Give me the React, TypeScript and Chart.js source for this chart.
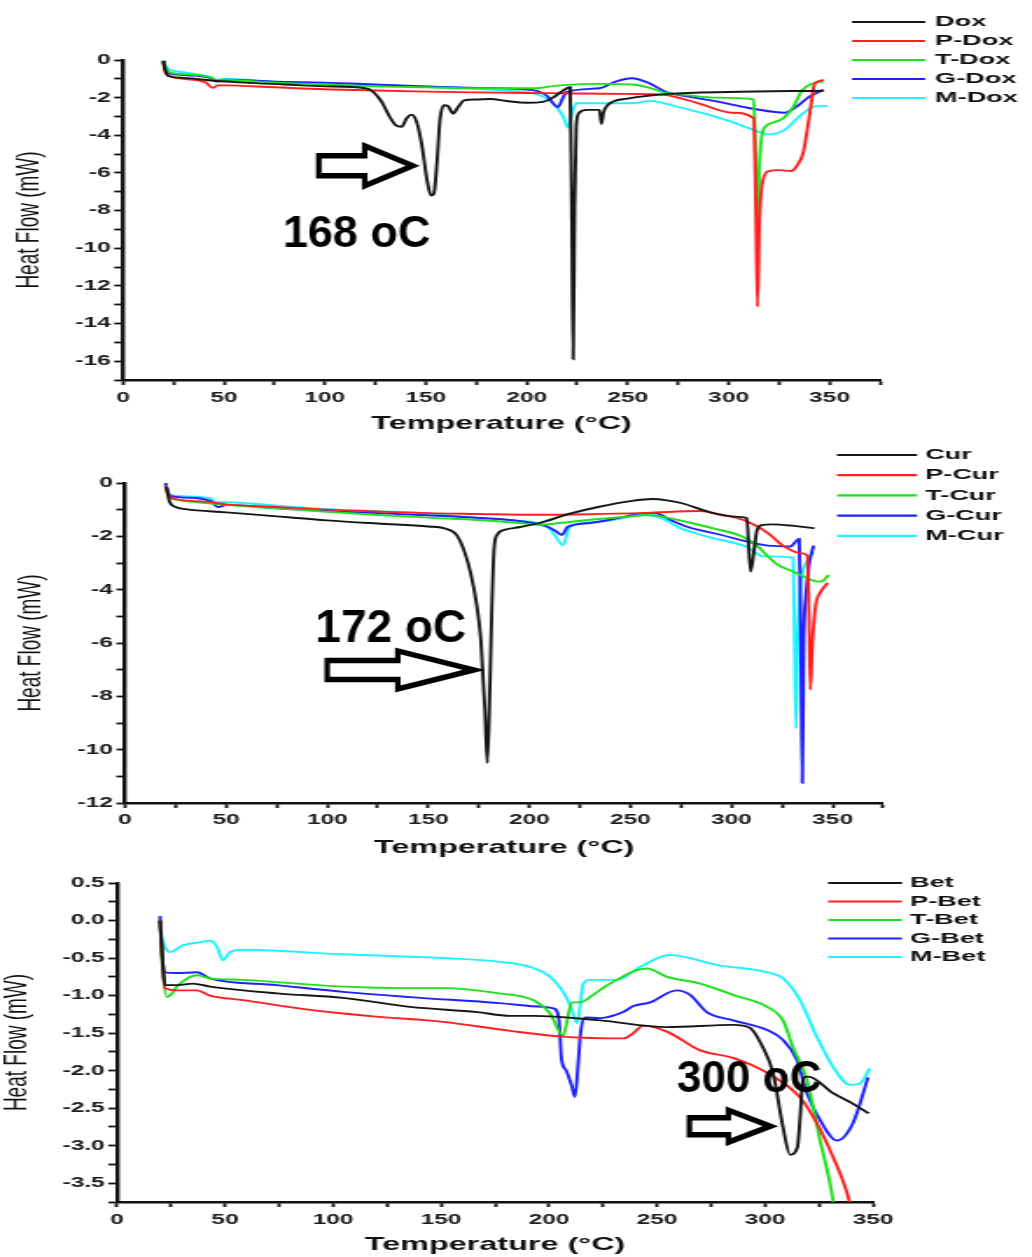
import React, { useEffect, useRef } from 'react';
import { Chart, registerables } from 'chart.js';

Chart.register(...registerables);

type Pt = [number, number];

// ---------------- data: panel 1 (Dox) ----------------
const DOX_NAMES = ['Dox', 'P-Dox', 'T-Dox', 'G-Dox', 'M-Dox'];
const DOX: Pt[] = [[20,-0.05],[21,-0.55],[22.5,-0.85],[30,-0.95],[45,-1.1],[60,-1.2],[80,-1.3],[100,-1.4],[120,-1.5],[124,-1.7],[128,-2.2],[132,-3.0],[135,-3.45],[138,-3.55],[140.5,-3.1],[143,-2.9],[145.5,-3.3],[148,-4.5],[150.5,-6.3],[152.5,-7.2],[154,-7.1],[155.5,-5.5],[157,-3.2],[159,-2.4],[161,-2.45],[163.5,-2.85],[166,-2.5],[169,-2.15],[175,-2.1],[182,-2.07],[190,-2.18],[200,-2.27],[208,-2.22],[213,-2.0],[217,-1.7],[221.5,-1.45],[222.3,-8],[223,-15.9],[223.7,-8],[224.5,-3.5],[226,-2.8],[230,-2.65],[236,-2.65],[237,-3.4],[238,-2.8],[240,-2.4],[250,-2.05],[260,-1.9],[270,-1.8],[300,-1.7],[347,-1.63]];
const P_DOX: Pt[] = [[20,-0.1],[21,-0.65],[23,-0.85],[30,-1.0],[41,-1.2],[44.5,-1.48],[47,-1.35],[50,-1.35],[75,-1.45],[100,-1.55],[125,-1.62],[150,-1.68],[175,-1.72],[200,-1.75],[225,-1.78],[250,-1.8],[268,-1.85],[285,-2.3],[302,-2.8],[312.5,-3.1],[313.5,-8],[314.3,-13.1],[315.3,-8.5],[317,-6.4],[320,-5.9],[325,-5.85],[331,-5.9],[334,-5.6],[337,-4.9],[340,-3.0],[342.5,-1.3],[344,-1.15],[347,-1.05]];
const T_DOX: Pt[] = [[20,-0.05],[21,-0.4],[23,-0.65],[30,-0.75],[44,-0.95],[46,-1.1],[50,-1.05],[75,-1.2],[100,-1.3],[125,-1.4],[150,-1.45],[175,-1.5],[205,-1.5],[212,-1.4],[220,-1.32],[235,-1.27],[252,-1.3],[260,-1.45],[269,-1.75],[280,-1.88],[294,-2.0],[312.5,-2.1],[313.3,-5],[314.2,-9.0],[315.3,-5.5],[316.5,-4.0],[318.7,-3.5],[323,-3.3],[327,-3.1],[332,-2.5],[336.5,-1.6],[341.5,-1.25],[347,-1.15]];
const G_DOX: Pt[] = [[20,-0.05],[21,-0.5],[23,-0.7],[30,-0.8],[43,-0.95],[46.5,-1.15],[51,-1.05],[75,-1.15],[100,-1.2],[125,-1.3],[150,-1.4],[175,-1.48],[203,-1.6],[210,-1.9],[215.5,-2.5],[217.5,-2.1],[219.7,-1.7],[236,-1.5],[244,-1.15],[252,-0.97],[260,-1.2],[269,-1.7],[280,-1.95],[294,-2.2],[310,-2.55],[322,-2.75],[328,-2.8],[334,-2.45],[340,-1.95],[347,-1.58]];
const M_DOX: Pt[] = [[20,-0.02],[21,-0.3],[23,-0.5],[30,-0.65],[43,-0.9],[46.5,-1.05],[50,-1.0],[75,-1.15],[100,-1.25],[125,-1.33],[150,-1.4],[162,-1.45],[185,-1.6],[203,-1.77],[212,-2.2],[218,-3.0],[220.5,-3.6],[222,-3.0],[224.5,-2.3],[240,-2.3],[252,-2.3],[261,-2.17],[270,-2.35],[277,-2.55],[290,-2.9],[302,-3.3],[312,-3.7],[320,-3.95],[328,-3.7],[335,-3.0],[340,-2.6],[343.5,-2.45],[349,-2.45]];

// ---------------- data: panel 2 (Cur) ----------------
const CUR_NAMES = ['Cur', 'P-Cur', 'T-Cur', 'G-Cur', 'M-Cur'];
const CUR: Pt[] = [[20.5,-0.15],[22,-0.7],[25,-0.9],[30,-0.98],[50,-1.1],[75,-1.25],[100,-1.4],[125,-1.52],[150,-1.63],[158,-1.7],[164,-1.95],[168,-2.6],[171,-3.4],[174,-4.6],[176,-5.9],[178,-8.5],[179.2,-10.5],[180.5,-7.5],[181.5,-4.5],[182.5,-2.5],[184,-1.95],[188,-1.75],[195.5,-1.65],[205,-1.5],[220,-1.15],[234,-0.9],[250,-0.68],[261,-0.6],[268,-0.65],[275,-0.75],[291,-1.13],[304,-1.27],[307.5,-1.32],[309.4,-3.33],[311,-2.6],[312.5,-1.8],[315,-1.58],[320,-1.55],[330,-1.6],[341,-1.7]];
const P_CUR: Pt[] = [[20,-0.1],[21.5,-0.45],[25,-0.6],[40,-0.7],[50,-0.8],[75,-0.9],[100,-1.0],[125,-1.07],[150,-1.13],[175,-1.16],[200,-1.19],[230,-1.17],[258,-1.12],[284.6,-1.05],[295,-1.2],[306,-1.39],[318,-1.88],[326,-2.38],[334,-2.63],[337.5,-2.72],[338.3,-5],[339,-7.75],[340,-6],[341.6,-4.6],[344,-4.1],[347.5,-3.75]];
const T_CUR: Pt[] = [[20,-0.1],[21.5,-0.5],[25,-0.62],[40,-0.75],[50,-0.82],[75,-0.95],[100,-1.08],[125,-1.2],[150,-1.3],[175,-1.39],[195,-1.5],[205,-1.57],[215,-1.5],[230,-1.38],[250,-1.25],[258,-1.2],[266,-1.27],[280,-1.5],[291,-1.7],[305,-2.0],[312.5,-2.35],[318,-2.75],[322.5,-3.05],[330.7,-3.33],[339,-3.62],[343,-3.7],[345.5,-3.65],[348,-3.45]];
const G_CUR: Pt[] = [[20,0],[21,-0.3],[22.3,-0.48],[30,-0.55],[42,-0.67],[46,-0.9],[50.5,-0.82],[75,-0.95],[100,-1.05],[125,-1.13],[146,-1.2],[175.7,-1.31],[195.5,-1.43],[208.9,-1.64],[213,-1.8],[216,-1.95],[219,-1.64],[230,-1.5],[245,-1.3],[258,-1.12],[263,-1.14],[270,-1.4],[278,-1.64],[295,-1.95],[307.7,-2.2],[318,-2.35],[329,-2.38],[333.5,-2.1],[334.3,-6],[335,-11.25],[335.7,-6],[336.8,-4.2],[338.5,-3.0],[340.6,-2.35]];
const M_CUR: Pt[] = [[20,-0.03],[21,-0.3],[22.3,-0.45],[30,-0.5],[42,-0.57],[45,-0.72],[50,-0.72],[75,-0.85],[100,-0.98],[125,-1.06],[146,-1.12],[175.7,-1.31],[195.5,-1.42],[208.9,-1.64],[213,-2.0],[216.6,-2.33],[220,-1.64],[235,-1.45],[258,-1.2],[265,-1.31],[274.8,-1.7],[290,-2.05],[307.7,-2.4],[315.7,-2.75],[330.5,-2.8],[331.2,-6],[331.9,-9.2],[332.7,-6],[334,-4.0],[337.6,-2.9],[340.6,-2.6]];

// ---------------- data: panel 3 (Bet) ----------------
const BET_NAMES = ['Bet', 'P-Bet', 'T-Bet', 'G-Bet', 'M-Bet'];
const BET: Pt[] = [[19.9,0],[21,-0.5],[22.2,-0.86],[28,-0.86],[35,-0.84],[43,-0.88],[74,-0.97],[104.6,-1.03],[135.6,-1.15],[166.6,-1.22],[182,-1.27],[192.6,-1.27],[223.6,-1.33],[254.6,-1.42],[285.2,-1.39],[293,-1.43],[299,-1.69],[303.7,-2.03],[308.3,-2.75],[311.6,-3.12],[315,-3.02],[316.3,-2.6],[317.6,-2.09],[320,-2.08],[331.5,-2.3],[340,-2.43],[348,-2.57]];
const P_BET: Pt[] = [[19.9,0],[21,-0.5],[22.2,-0.9],[27.7,-0.93],[37,-0.93],[43,-1.0],[58.5,-1.06],[89.4,-1.19],[120,-1.28],[151,-1.35],[182,-1.47],[208,-1.55],[234.3,-1.57],[239,-1.5],[243.7,-1.4],[254.6,-1.48],[270,-1.73],[285.2,-1.83],[301,-2.03],[316,-2.35],[324,-2.7],[331.5,-3.15],[338,-3.63],[340,-3.85]];
const T_BET: Pt[] = [[19.9,0],[21,-0.6],[23.1,-1.02],[25.5,-0.97],[27.7,-0.88],[32,-0.78],[37,-0.73],[43,-0.77],[58.5,-0.79],[104.6,-0.88],[135.6,-0.9],[151,-0.9],[177,-0.97],[192.6,-1.06],[200.5,-1.24],[206.5,-1.53],[210.6,-1.09],[214.4,-1.09],[220.4,-0.99],[228.2,-0.84],[245.4,-0.64],[254.6,-0.75],[270,-0.84],[285.2,-0.99],[301,-1.15],[308.3,-1.33],[313,-1.69],[319.4,-2.13],[325.5,-2.93],[331.5,-3.73],[332,-3.85]];
const G_BET: Pt[] = [[19.9,0.06],[20.5,-0.3],[22.2,-0.69],[27.7,-0.7],[37,-0.69],[43,-0.77],[74,-0.86],[104.6,-0.95],[135.6,-1.02],[177,-1.1],[197,-1.15],[202,-1.17],[204.5,-1.3],[205.8,-1.85],[208,-2.0],[210.5,-2.2],[212,-2.35],[213.5,-1.9],[214.6,-1.5],[216.7,-1.29],[223.6,-1.3],[234.3,-1.22],[239,-1.14],[246.8,-1.09],[259,-0.93],[265.3,-0.99],[273,-1.22],[285.2,-1.33],[301,-1.46],[308.3,-1.59],[314.8,-1.86],[319.4,-2.3],[325.5,-2.66],[333.3,-2.93],[340.7,-2.7],[347.7,-2.09]];
const M_BET: Pt[] = [[19.9,-0.09],[21.5,-0.3],[23,-0.39],[24.5,-0.42],[30.6,-0.33],[38.4,-0.29],[43,-0.27],[46.3,-0.35],[49,-0.53],[52.3,-0.42],[58.5,-0.39],[104.6,-0.45],[151,-0.5],[177,-0.55],[192.6,-0.63],[200.5,-0.75],[208,-1.02],[210.6,-1.19],[213,-1.37],[215.9,-0.84],[219,-0.79],[231.5,-0.79],[242,-0.62],[256,-0.46],[262,-0.48],[277.6,-0.59],[301,-0.69],[308.3,-0.77],[316.2,-1.06],[324,-1.55],[331.5,-1.95],[339.4,-2.19],[344,-2.17],[348.5,-1.97]];

// ---------------- styling / layout ----------------
const INNER_W = 590;            // internal canvas width (drawing is stretched horizontally)
const DISPLAY_W = 1032;
const STRETCH = DISPLAY_W / INNER_W;
const FONT = '"Liberation Sans", Arial, Helvetica, sans-serif';
const COLORS = ['#151515', '#ff1f1f', '#1fe01f', '#1f1fff', '#1ff2ff'];

interface Note {
  text: string; textX: number; textY: number; size: number;
  tailX: number; tipX: number; arrowY: number; headLen: number; shaft: number; head: number;
}
interface Legend { lineX0: number; lineX1: number; textX: number; y0: number; dy: number; }
interface PanelCfg {
  names: string[]; series: Pt[][]; xMax: number; yMin: number; yMax: number; yStep: number;
  yLabelStep: number; yDecimals: number; note: Note; legend: Legend;
  top: number; height: number; yAxisW: number; xAxisH: number; padTop: number; padRight: number;
  xTitlePad: number; yTitlePad: number; tickPad: number;
}

const PANELS: PanelCfg[] = [
  {
    names: DOX_NAMES, series: [DOX, P_DOX, T_DOX, G_DOX, M_DOX], xMax: 375, yMin: -17, yMax: 0, yStep: 1,
    yLabelStep: 2, yDecimals: 0,
    note: { text: '168 oC', textX: 79.2, textY: -9.96, size: 45, tailX: 97, tipX: 143.5, arrowY: -5.62, headLen: 48, shaft: 10, head: 20 },
    legend: { lineX0: 487.1, lineX1: 528.9, textX: 534.6, y0: 22, dy: 19 },
    top: 0, height: 440, yAxisW: 70.3, xAxisH: 60, padTop: 60, padRight: 86.9, xTitlePad: 4.5, yTitlePad: 7.6, tickPad: 5,
  },
  {
    names: CUR_NAMES, series: [CUR, P_CUR, T_CUR, G_CUR, M_CUR], xMax: 375, yMin: -12, yMax: 0, yStep: 1,
    yLabelStep: 2, yDecimals: 0,
    note: { text: '172 oC', textX: 94.1, textY: -5.96, size: 46, tailX: 100, tipX: 172.5, arrowY: -7.01, headLen: 76, shaft: 9.5, head: 19 },
    legend: { lineX0: 478.5, lineX1: 524.3, textX: 528.9, y0: 15, dy: 20.2 },
    top: 440, height: 420, yAxisW: 71.5, xAxisH: 57, padTop: 43, padRight: 85.1, xTitlePad: 1, yTitlePad: 8.2, tickPad: 4,
  },
  {
    names: BET_NAMES, series: [BET, P_BET, T_BET, G_BET, M_BET], xMax: 350, yMin: -3.75, yMax: 0.5, yStep: 0.25,
    yLabelStep: 0.5, yDecimals: 1,
    note: { text: '300 oC', textX: 259.3, textY: -2.287, size: 44, tailX: 265, tipX: 302.5, arrowY: -2.74, headLen: 42, shaft: 8.5, head: 16 },
    legend: { lineX0: 473.4, lineX1: 515.7, textX: 520.3, y0: 23, dy: 18.5 },
    top: 860, height: 397, yAxisW: 66.9, xAxisH: 55, padTop: 23, padRight: 90.9, xTitlePad: 0.5, yTitlePad: 0.5, tickPad: 5,
  },
];

function overlayPlugin(cfg: PanelCfg) {
  return {
    id: 'overlay',
    afterDraw(chart: any) {
      const ctx: CanvasRenderingContext2D = chart.ctx;
      const xs = chart.scales.x;
      const ys = chart.scales.y;
      const lg = cfg.legend;
      ctx.save();
      ctx.font = `bold 15.5px ${FONT}`;
      ctx.textAlign = 'left';
      ctx.textBaseline = 'middle';
      chart.data.datasets.forEach((ds: any, i: number) => {
        const y = lg.y0 + i * lg.dy;
        ctx.strokeStyle = ds.borderColor;
        ctx.lineWidth = 2.2;
        ctx.beginPath();
        ctx.moveTo(lg.lineX0, y);
        ctx.lineTo(lg.lineX1, y);
        ctx.stroke();
        ctx.fillStyle = '#111';
        ctx.fillText(ds.label, lg.textX, y);
      });
      ctx.restore();

      // annotation (drawn unstretched)
      const n = cfg.note;
      ctx.save();
      ctx.scale(1 / STRETCH, 1);
      ctx.font = `bold ${n.size}px ${FONT}`;
      ctx.textAlign = 'left';
      ctx.textBaseline = 'alphabetic';
      ctx.fillStyle = '#000';
      ctx.fillText(n.text, xs.getPixelForValue(n.textX) * STRETCH, ys.getPixelForValue(n.textY));
      const x0 = xs.getPixelForValue(n.tailX) * STRETCH;
      const x1 = xs.getPixelForValue(n.tipX) * STRETCH;
      const ay = ys.getPixelForValue(n.arrowY);
      const hx = x1 - n.headLen;
      ctx.beginPath();
      ctx.moveTo(x0, ay - n.shaft);
      ctx.lineTo(hx, ay - n.shaft);
      ctx.lineTo(hx, ay - n.head);
      ctx.lineTo(x1, ay);
      ctx.lineTo(hx, ay + n.head);
      ctx.lineTo(hx, ay + n.shaft);
      ctx.lineTo(x0, ay + n.shaft);
      ctx.closePath();
      ctx.fillStyle = '#fff';
      ctx.fill();
      ctx.lineWidth = 5.5;
      ctx.lineJoin = 'miter';
      ctx.strokeStyle = '#000';
      ctx.stroke();
      ctx.restore();
    },
  };
}

function Panel({ cfg }: { cfg: PanelCfg }) {
  const ref = useRef<HTMLCanvasElement | null>(null);
  useEffect(() => {
    const canvas = ref.current;
    if (!canvas) return;
    const chart = new Chart(canvas, {
      type: 'line',
      data: {
        datasets: cfg.series.map((s, i) => ({
          label: cfg.names[i],
          data: s.map(([x, y]) => ({ x, y })),
          borderColor: COLORS[i],
          backgroundColor: COLORS[i],
          borderWidth: 1.9,
          pointRadius: 0,
          fill: false,
          cubicInterpolationMode: 'monotone' as const,
        })),
      },
      options: {
        responsive: false,
        animation: false,
        devicePixelRatio: 1,
        events: [],
        layout: { padding: { top: cfg.padTop, right: cfg.padRight, left: 0, bottom: 0 } },
        plugins: { legend: { display: false }, tooltip: { enabled: false } },
        scales: {
          x: {
            type: 'linear',
            min: 0,
            max: cfg.xMax,
            afterFit: (s: any) => { s.height = cfg.xAxisH; },
            ticks: {
              stepSize: 25,
              autoSkip: false,
              maxRotation: 0,
              minRotation: 0,
              padding: cfg.tickPad,
              color: '#1c1c1c',
              font: { family: FONT, weight: 'bold', size: 14 },
              callback: (v: any) => (Number(v) % 50 === 0 ? String(v) : ''),
            },
            grid: { drawOnChartArea: false, drawTicks: true, tickLength: 5, tickColor: '#111', tickWidth: 1.8 },
            border: { display: true, color: '#111', width: 2.4 },
            title: {
              display: true,
              text: 'Temperature (°C)',
              color: '#111',
              font: { family: FONT, weight: 'bold', size: 18.5, lineHeight: 1.2 },
              padding: { top: 0, bottom: cfg.xTitlePad },
            },
          },
          y: {
            type: 'linear',
            min: cfg.yMin,
            max: cfg.yMax,
            afterFit: (s: any) => { s.width = cfg.yAxisW; },
            ticks: {
              stepSize: cfg.yStep,
              autoSkip: false,
              padding: 2,
              color: '#1c1c1c',
              font: { family: FONT, weight: 'bold', size: 14 },
              callback: (v: any) => {
                const q = Number(v) / cfg.yLabelStep;
                return Math.abs(q - Math.round(q)) < 1e-6 ? Number(v).toFixed(cfg.yDecimals) : '';
              },
            },
            grid: { drawOnChartArea: false, drawTicks: true, tickLength: 5, tickColor: '#111', tickWidth: 1.8 },
            border: { display: true, color: '#111', width: 2.4 },
            title: {
              display: true,
              text: 'Heat Flow (mW)',
              color: '#111',
              font: { family: FONT, size: 19, lineHeight: 1 },
              padding: { top: cfg.yTitlePad, bottom: 0 },
            },
          },
        },
      } as any,
      plugins: [overlayPlugin(cfg)],
    });
    return () => chart.destroy();
  }, [cfg]);
  return (
    <canvas
      ref={ref}
      width={INNER_W}
      height={cfg.height}
      style={{ position: 'absolute', left: 0, top: cfg.top, width: `${DISPLAY_W}px`, height: `${cfg.height}px` }}
    />
  );
}

export default function App() {
  return (
    <div style={{ position: 'absolute', left: 0, top: 0, width: DISPLAY_W, height: 1257, background: '#fff', overflow: 'hidden' }}>
      {PANELS.map((p, i) => (
        <Panel key={i} cfg={p} />
      ))}
    </div>
  );
}
